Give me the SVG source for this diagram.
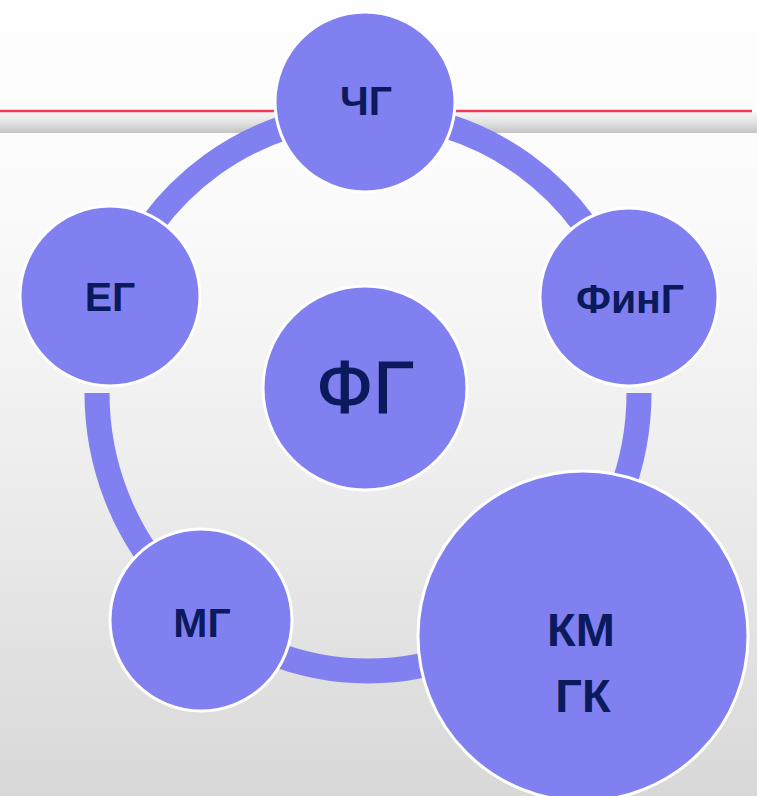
<svg xmlns="http://www.w3.org/2000/svg" width="757" height="796" viewBox="0 0 757 796">
  <defs>
    <linearGradient id="bg" x1="0" y1="0" x2="0" y2="1">
      <stop offset="0" stop-color="#fefefe"/>
      <stop offset="0.25" stop-color="#fbfbfb"/>
      <stop offset="0.6" stop-color="#ededed"/>
      <stop offset="1" stop-color="#d8d8d8"/>
    </linearGradient>
    <linearGradient id="band" x1="0" y1="0" x2="0" y2="1">
      <stop offset="0" stop-color="#f7f7f7"/>
      <stop offset="0.5" stop-color="#e2e2e2"/>
      <stop offset="1" stop-color="#c4c4c4"/>
    </linearGradient>
    <style>
      .ring { fill: none; stroke: #8080f0; stroke-width: 25; stroke-linecap: butt; }
      .node { fill: #8080f0; stroke: #ffffff; stroke-width: 3; }
      .lbl { font-family: "Liberation Sans", Arial, sans-serif; font-weight: bold; fill: #0a1a5c; text-anchor: middle; }
      .big { font-weight: normal; stroke: #0a1a5c; stroke-width: 1.2; }
    </style>
  </defs>

  <!-- background -->
  <rect x="0" y="0" width="757" height="796" fill="url(#bg)"/>
  <rect x="0" y="112" width="757" height="21" fill="url(#band)"/>
  <line x1="0" y1="111" x2="752" y2="111" stroke="#f5375a" stroke-width="2.5"/>

  <!-- connecting ring -->
  <g id="connectors">
    <path class="ring" d="M 639 393 A 271 278 0 0 1 97 393"/>
    <path class="ring" d="M 113 298 A 271 278 0 0 1 623 298"/>
  </g>

  <g id="node-chg">
    <circle class="node" cx="365" cy="102" r="90"/>
    <text class="lbl" x="366" y="115" font-size="41">ЧГ</text>
  </g>
  <g id="node-eg">
    <circle class="node" cx="110" cy="296" r="90"/>
    <text class="lbl" x="110" y="311" font-size="41">ЕГ</text>
  </g>
  <g id="node-fing">
    <circle class="node" cx="629" cy="297" r="89"/>
    <text class="lbl" x="630" y="313" font-size="41">ФинГ</text>
  </g>
  <g id="node-fg">
    <circle class="node" cx="365" cy="388" r="102"/>
    <text class="lbl big" x="365" y="413" font-size="75">ФГ</text>
  </g>
  <g id="node-mg">
    <circle class="node" cx="201" cy="620" r="91"/>
    <text class="lbl" x="202" y="637" font-size="41">МГ</text>
  </g>
  <g id="node-kmgk">
    <circle class="node" cx="583" cy="636" r="165"/>
    <text class="lbl" x="581" y="646" font-size="47">КМ</text>
    <text class="lbl" x="583" y="712" font-size="47">ГК</text>
  </g>
</svg>
